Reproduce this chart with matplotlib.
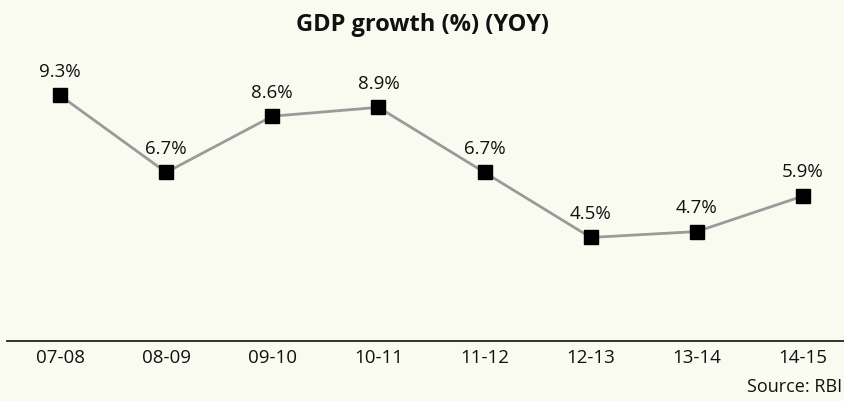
import matplotlib.pyplot as plt

years = ["07-08", "08-09", "09-10", "10-11", "11-12", "12-13", "13-14", "14-15"]
growth = [9.3, 6.7, 8.6, 8.9, 6.7, 4.5, 4.7, 5.9]

bg = "#fafbf0"
plt.rcParams['font.family'] = ['Open Sans', 'DejaVu Sans']

fig = plt.figure(figsize=(8.44, 4.01), dpi=100, facecolor=bg)
ax = fig.add_axes([7 / 844, 60 / 401, 837 / 844, 281 / 401])
ax.set_facecolor(bg)

x = list(range(len(years)))
ax.plot(x, growth, color="#9a9a9a", lw=2, marker="s", ms=10,
        mfc="black", mec="black", zorder=3)
for xi, v in zip(x, growth):
    ax.annotate(f"{v}%", (xi, v), xytext=(0, 10.5), textcoords="offset points",
                ha="center", va="bottom", fontsize=13.5, color="#111111")

ax.set_xlim(-0.5, 7.387)
ax.set_ylim(1, 10.5)
ax.set_xticks(x)
ax.set_xticklabels(years, fontsize=13.5, color="#111111")
ax.tick_params(axis="x", length=0, pad=6)
ax.set_yticks([])
for s in ["top", "right", "left"]:
    ax.spines[s].set_visible(False)
ax.spines["bottom"].set_color("#222222")
ax.spines["bottom"].set_linewidth(1.3)

fig.text(0.5, 1 - 25 / 401, "GDP growth (%) (YOY)", ha="center", va="center",
         fontsize=17, fontweight="bold", color="#111111")
fig.text(842 / 844, 1 - 387 / 401, "Source: RBI", ha="right", va="center",
         fontsize=13, color="#111111")

fig.savefig("out.png", dpi=100, facecolor=bg)
